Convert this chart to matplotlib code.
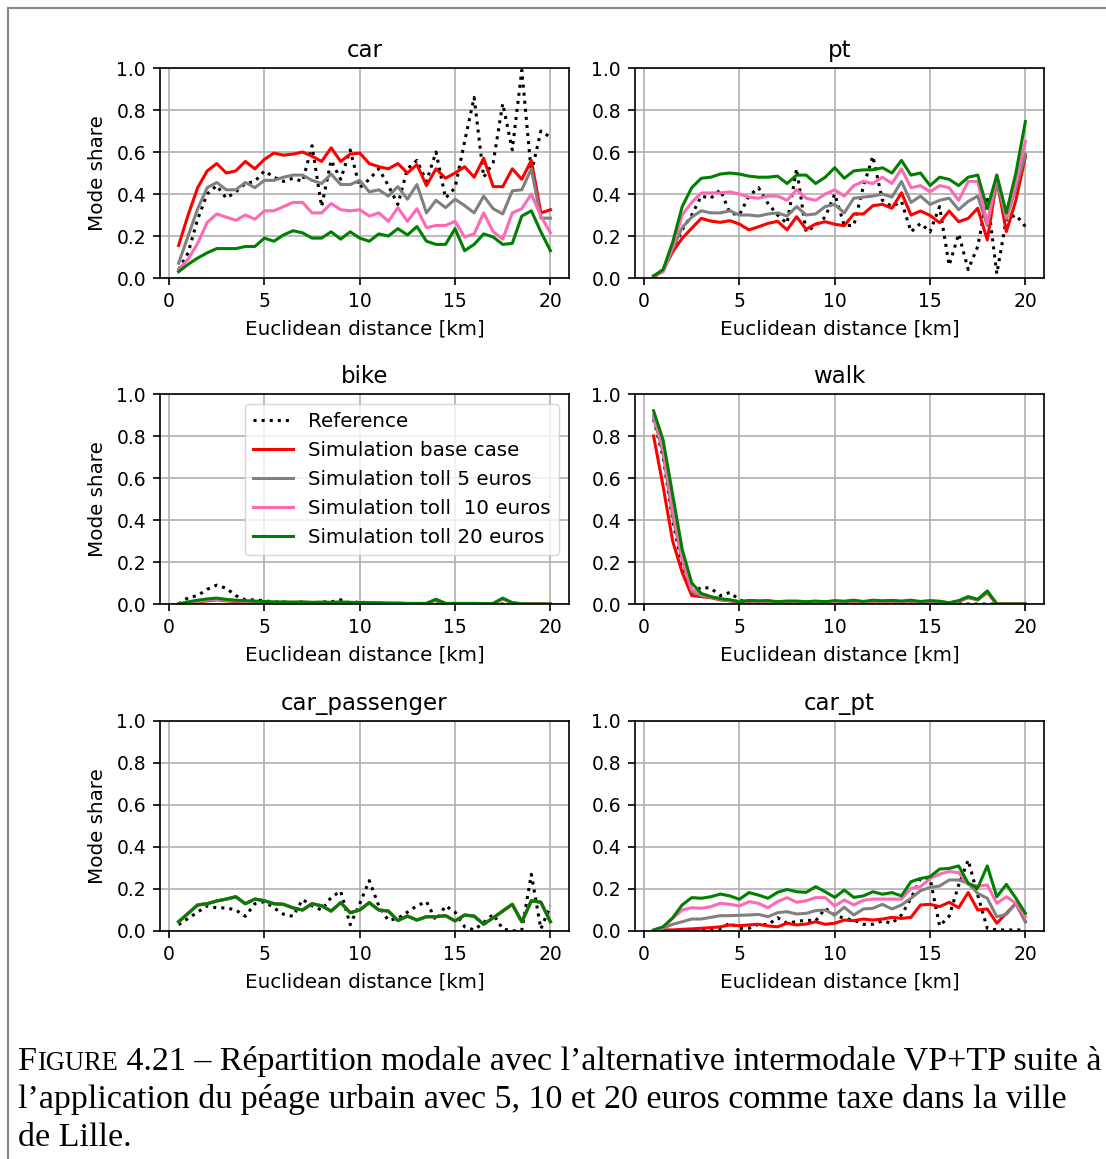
import numpy as np
import matplotlib
matplotlib.use('Agg')
import matplotlib.pyplot as plt
from matplotlib.lines import Line2D

# distance bins (km)
dist = np.arange(1, 41) * 0.5

# ---- car ----
car_ref = [0.04, 0.12, 0.28, 0.40, 0.44, 0.38, 0.41, 0.45, 0.46, 0.51,
           0.48, 0.46, 0.475, 0.46, 0.63, 0.34, 0.56, 0.47, 0.61, 0.43,
           0.47, 0.52, 0.44, 0.35, 0.52, 0.56, 0.46, 0.60, 0.38, 0.43,
           0.65, 0.86, 0.48, 0.55, 0.83, 0.61, 0.99, 0.50, 0.70, 0.67]
car_base = [0.155, 0.30, 0.43, 0.51, 0.545, 0.50, 0.51, 0.555, 0.52, 0.565,
            0.595, 0.585, 0.59, 0.60, 0.58, 0.555, 0.62, 0.555, 0.59, 0.595,
            0.545, 0.53, 0.52, 0.545, 0.50, 0.54, 0.44, 0.52, 0.475, 0.50,
            0.53, 0.48, 0.57, 0.435, 0.435, 0.52, 0.47, 0.56, 0.31, 0.325]
car_t5 = [0.07, 0.20, 0.33, 0.43, 0.455, 0.42, 0.42, 0.455, 0.43, 0.465,
          0.465, 0.48, 0.49, 0.49, 0.465, 0.45, 0.495, 0.445, 0.445, 0.465,
          0.41, 0.42, 0.39, 0.435, 0.375, 0.445, 0.31, 0.37, 0.335, 0.375,
          0.345, 0.31, 0.39, 0.33, 0.305, 0.415, 0.42, 0.52, 0.285, 0.285]
car_t10 = [0.04, 0.09, 0.165, 0.265, 0.305, 0.29, 0.275, 0.30, 0.28, 0.32,
           0.32, 0.34, 0.36, 0.36, 0.31, 0.31, 0.355, 0.325, 0.32, 0.325,
           0.295, 0.31, 0.27, 0.335, 0.27, 0.33, 0.24, 0.25, 0.25, 0.27,
           0.195, 0.21, 0.31, 0.22, 0.185, 0.31, 0.33, 0.40, 0.295, 0.215]
car_t20 = [0.03, 0.065, 0.095, 0.12, 0.14, 0.14, 0.14, 0.15, 0.15, 0.19,
           0.175, 0.205, 0.225, 0.215, 0.19, 0.19, 0.22, 0.185, 0.22, 0.19,
           0.175, 0.21, 0.20, 0.235, 0.205, 0.245, 0.175, 0.16, 0.16, 0.235,
           0.13, 0.16, 0.21, 0.195, 0.16, 0.165, 0.295, 0.32, 0.22, 0.13]

# ---- pt ----
pt_ref = [0.003, 0.04, 0.13, 0.23, 0.30, 0.39, 0.38, 0.42, 0.31, 0.30,
          0.39, 0.43, 0.355, 0.30, 0.26, 0.52, 0.22, 0.25, 0.29, 0.40,
          0.25, 0.25, 0.435, 0.58, 0.37, 0.34, 0.365, 0.22, 0.26, 0.22,
          0.34, 0.06, 0.21, 0.04, 0.15, 0.39, 0.02, 0.28, 0.30, 0.245]
pt_base = [0.003, 0.038, 0.125, 0.189, 0.237, 0.284, 0.271, 0.265, 0.273, 0.257,
           0.229, 0.244, 0.260, 0.270, 0.229, 0.292, 0.232, 0.257, 0.268, 0.256,
           0.249, 0.305, 0.305, 0.344, 0.351, 0.332, 0.406, 0.300, 0.319, 0.298,
           0.263, 0.319, 0.268, 0.284, 0.332, 0.181, 0.467, 0.221, 0.370, 0.578]
pt_t5 = [0.01, 0.03, 0.14, 0.24, 0.29, 0.32, 0.31, 0.31, 0.32, 0.30,
         0.30, 0.295, 0.305, 0.31, 0.295, 0.34, 0.30, 0.305, 0.34, 0.35,
         0.31, 0.38, 0.385, 0.39, 0.40, 0.385, 0.46, 0.36, 0.39, 0.35,
         0.37, 0.38, 0.325, 0.365, 0.39, 0.25, 0.46, 0.28, 0.43, 0.59]
pt_t10 = [0.01, 0.03, 0.15, 0.30, 0.36, 0.405, 0.405, 0.405, 0.41, 0.40,
          0.385, 0.38, 0.39, 0.39, 0.37, 0.42, 0.38, 0.37, 0.40, 0.42,
          0.39, 0.44, 0.46, 0.45, 0.48, 0.45, 0.52, 0.43, 0.44, 0.41,
          0.44, 0.43, 0.37, 0.46, 0.46, 0.26, 0.49, 0.29, 0.45, 0.65]
pt_t20 = [0.01, 0.04, 0.17, 0.34, 0.43, 0.475, 0.48, 0.495, 0.50, 0.495,
          0.485, 0.48, 0.48, 0.485, 0.45, 0.49, 0.49, 0.45, 0.48, 0.525,
          0.475, 0.51, 0.515, 0.515, 0.525, 0.50, 0.56, 0.49, 0.50, 0.44,
          0.48, 0.47, 0.44, 0.48, 0.49, 0.33, 0.49, 0.31, 0.50, 0.745]

# ---- bike ----
bike_ref = [0.0, 0.03, 0.04, 0.07, 0.09, 0.075, 0.04, 0.02, 0.02, 0.015,
            0.01, 0.01, 0.005, 0.01, 0.005, 0.01, 0.01, 0.02, 0.005, 0.01,
            0.005, 0.005, 0.0, 0.0, 0.0, 0.0, 0.0, 0.0, 0.0, 0.0,
            0.0, 0.0, 0.0, 0.0, 0.0, 0.0, 0.0, 0.0, 0.0, 0.0]
bike_base = [0.0, 0.005, 0.01, 0.015, 0.02, 0.015, 0.012, 0.01, 0.01, 0.008,
             0.006, 0.006, 0.006, 0.006, 0.005, 0.005, 0.005, 0.005, 0.005, 0.005,
             0.004, 0.004, 0.003, 0.003, 0.002, 0.002, 0.002, 0.02, 0.002, 0.002,
             0.002, 0.002, 0.002, 0.002, 0.025, 0.005, 0.001, 0.0, 0.0, 0.0]
bike_t5 = [0.0, 0.006, 0.012, 0.018, 0.022, 0.017, 0.014, 0.012, 0.011, 0.009,
           0.007, 0.007, 0.007, 0.007, 0.006, 0.006, 0.006, 0.006, 0.006, 0.005,
           0.005, 0.004, 0.003, 0.003, 0.002, 0.002, 0.002, 0.022, 0.002, 0.002,
           0.002, 0.002, 0.002, 0.002, 0.025, 0.005, 0.001, 0.0, 0.0, 0.0]
bike_t10 = [0.0, 0.007, 0.014, 0.02, 0.024, 0.019, 0.016, 0.013, 0.012, 0.01,
            0.008, 0.008, 0.008, 0.008, 0.007, 0.007, 0.007, 0.007, 0.007, 0.006,
            0.005, 0.004, 0.003, 0.003, 0.002, 0.002, 0.002, 0.022, 0.002, 0.002,
            0.002, 0.002, 0.002, 0.002, 0.026, 0.005, 0.001, 0.0, 0.0, 0.0]
bike_t20 = [0.0, 0.01, 0.018, 0.024, 0.028, 0.022, 0.018, 0.016, 0.014, 0.012,
            0.01, 0.01, 0.009, 0.01, 0.008, 0.009, 0.008, 0.01, 0.008, 0.007,
            0.006, 0.005, 0.004, 0.004, 0.003, 0.003, 0.003, 0.022, 0.003, 0.003,
            0.003, 0.003, 0.002, 0.002, 0.028, 0.006, 0.001, 0.0, 0.0, 0.0]

# ---- walk ----
walk_ref = [0.88, 0.70, 0.40, 0.18, 0.05, 0.08, 0.075, 0.04, 0.055, 0.02,
            0.005, 0.005, 0.005, 0.005, 0.003, 0.003, 0.003, 0.003, 0.003, 0.003,
            0.003, 0.003, 0.002, 0.002, 0.002, 0.002, 0.002, 0.002, 0.002, 0.002,
            0.002, 0.002, 0.002, 0.0, 0.0, 0.0, 0.0, 0.0, 0.0, 0.0]
walk_base = [0.80, 0.56, 0.30, 0.15, 0.04, 0.035, 0.03, 0.02, 0.015, 0.01,
             0.012, 0.01, 0.012, 0.008, 0.01, 0.01, 0.008, 0.01, 0.008, 0.01,
             0.01, 0.012, 0.008, 0.012, 0.01, 0.012, 0.01, 0.012, 0.008, 0.012,
             0.01, 0.004, 0.012, 0.03, 0.02, 0.055, 0.0, 0.0, 0.0, 0.0]
walk_t5 = [0.89, 0.72, 0.42, 0.21, 0.06, 0.04, 0.032, 0.022, 0.016, 0.011,
           0.014, 0.012, 0.013, 0.009, 0.011, 0.011, 0.009, 0.011, 0.009, 0.012,
           0.011, 0.014, 0.009, 0.014, 0.012, 0.014, 0.011, 0.014, 0.009, 0.013,
           0.011, 0.004, 0.013, 0.032, 0.02, 0.058, 0.0, 0.0, 0.0, 0.0]
walk_t10 = [0.90, 0.74, 0.45, 0.22, 0.07, 0.045, 0.034, 0.024, 0.017, 0.012,
            0.015, 0.013, 0.014, 0.01, 0.012, 0.012, 0.01, 0.012, 0.01, 0.013,
            0.012, 0.015, 0.01, 0.015, 0.013, 0.015, 0.012, 0.015, 0.01, 0.014,
            0.012, 0.005, 0.014, 0.033, 0.021, 0.06, 0.0, 0.0, 0.0, 0.0]
walk_t20 = [0.92, 0.78, 0.52, 0.26, 0.10, 0.05, 0.035, 0.025, 0.02, 0.01,
            0.017, 0.015, 0.016, 0.011, 0.014, 0.014, 0.011, 0.014, 0.011, 0.016,
            0.013, 0.018, 0.012, 0.018, 0.015, 0.017, 0.014, 0.018, 0.012, 0.016,
            0.013, 0.006, 0.016, 0.035, 0.022, 0.062, 0.0, 0.0, 0.0, 0.0]

# ---- car_passenger ----
cp_ref = [0.03, 0.06, 0.09, 0.12, 0.11, 0.11, 0.10, 0.07, 0.13, 0.14,
          0.11, 0.08, 0.07, 0.15, 0.12, 0.10, 0.16, 0.19, 0.03, 0.13,
          0.24, 0.12, 0.05, 0.06, 0.09, 0.12, 0.14, 0.05, 0.12, 0.09,
          0.02, 0.005, 0.04, 0.08, 0.01, 0.0, 0.005, 0.27, 0.01, 0.12]
cp_sim = [0.044, 0.084, 0.124, 0.13, 0.143, 0.152, 0.163, 0.13, 0.152, 0.144,
          0.13, 0.127, 0.11, 0.10, 0.13, 0.12, 0.095, 0.135, 0.087, 0.10,
          0.135, 0.10, 0.095, 0.05, 0.071, 0.052, 0.068, 0.068, 0.073, 0.048,
          0.076, 0.071, 0.032, 0.063, 0.095, 0.127, 0.044, 0.144, 0.137, 0.044]

# ---- car_pt ----
cpt_ref = [0.0, 0.0, 0.0, 0.0, 0.0, 0.005, 0.008, 0.012, 0.037, 0.013,
           0.013, 0.032, 0.03, 0.063, 0.037, 0.045, 0.052, 0.048, 0.108, 0.076,
           0.06, 0.052, 0.032, 0.032, 0.048, 0.037, 0.076, 0.156, 0.25, 0.25,
           0.024, 0.07, 0.219, 0.338, 0.17, 0.013, 0.005, 0.005, 0.005, 0.005]
cpt_base = [0.002, 0.005, 0.005, 0.008, 0.01, 0.013, 0.016, 0.02, 0.029, 0.025,
            0.029, 0.032, 0.024, 0.02, 0.037, 0.029, 0.033, 0.044, 0.032, 0.037,
            0.052, 0.049, 0.057, 0.052, 0.057, 0.065, 0.06, 0.065, 0.124, 0.127,
            0.116, 0.137, 0.111, 0.183, 0.10, 0.105, 0.037, 0.084, 0.132, 0.044]
cpt_t5 = [0.003, 0.013, 0.032, 0.044, 0.057, 0.057, 0.065, 0.073, 0.073, 0.075,
          0.076, 0.079, 0.068, 0.087, 0.092, 0.081, 0.084, 0.097, 0.10, 0.076,
          0.113, 0.076, 0.105, 0.108, 0.127, 0.105, 0.124, 0.156, 0.192, 0.208,
          0.214, 0.243, 0.243, 0.227, 0.179, 0.156, 0.068, 0.079, 0.132, 0.044]
cpt_t10 = [0.003, 0.016, 0.06, 0.10, 0.111, 0.108, 0.116, 0.132, 0.127, 0.119,
           0.14, 0.132, 0.111, 0.14, 0.159, 0.137, 0.144, 0.159, 0.159, 0.119,
           0.148, 0.124, 0.146, 0.152, 0.152, 0.152, 0.152, 0.203, 0.211, 0.25,
           0.271, 0.283, 0.278, 0.222, 0.214, 0.219, 0.132, 0.163, 0.132, 0.068]
cpt_t20 = [0.005, 0.02, 0.063, 0.124, 0.159, 0.156, 0.163, 0.176, 0.167, 0.151,
           0.183, 0.171, 0.156, 0.184, 0.198, 0.187, 0.184, 0.211, 0.187, 0.16,
           0.195, 0.16, 0.167, 0.187, 0.175, 0.183, 0.167, 0.235, 0.25, 0.259,
           0.295, 0.298, 0.31, 0.227, 0.206, 0.31, 0.163, 0.222, 0.156, 0.084]

modes = ["car", "pt", "bike", "walk", "car_passenger", "car_pt"]
series = {
    "car": [car_ref, car_base, car_t5, car_t10, car_t20],
    "pt": [pt_ref, pt_base, pt_t5, pt_t10, pt_t20],
    "bike": [bike_ref, bike_base, bike_t5, bike_t10, bike_t20],
    "walk": [walk_ref, walk_base, walk_t5, walk_t10, walk_t20],
    "car_passenger": [cp_ref, cp_sim, cp_sim, cp_sim, cp_sim],
    "car_pt": [cpt_ref, cpt_base, cpt_t5, cpt_t10, cpt_t20],
}
labels = ["Reference", "Simulation base case", "Simulation toll 5 euros",
          "Simulation toll  10 euros", "Simulation toll 20 euros"]
colors = ["black", "red", "grey", "hotpink", "green"]


def main():
    plt.rcParams['font.family'] = 'DejaVu Sans'
    plt.rcParams['font.size'] = 14
    plt.rcParams['xtick.labelsize'] = 13.5
    plt.rcParams['ytick.labelsize'] = 13.5

    fig = plt.figure(figsize=(11.06, 11.59), dpi=100)

    lefts = [160 / 1106, 635 / 1106]
    bottoms = [1 - 278 / 1159, 1 - 604 / 1159, 1 - 931 / 1159]
    w = 409 / 1106
    h = 210 / 1159

    for i, mode in enumerate(modes):
        r, c = divmod(i, 2)
        ax = fig.add_axes([lefts[c], bottoms[r], w, h])
        ref, base, t5, t10, t20 = series[mode]
        ax.plot(dist, ref, ':', color=colors[0], lw=2.2, label=labels[0])
        ax.plot(dist, base, '-', color=colors[1], lw=2.2, label=labels[1])
        ax.plot(dist, t5, '-', color=colors[2], lw=2.2, label=labels[2])
        ax.plot(dist, t10, '-', color=colors[3], lw=2.2, label=labels[3])
        ax.plot(dist, t20, '-', color=colors[4], lw=2.2, label=labels[4])
        ax.set_ylim(0, 1)
        ax.set_xticks([0, 5, 10, 15, 20])
        ax.set_yticks([0, 0.2, 0.4, 0.6, 0.8, 1.0])
        ax.grid(True, color='#b0b0b0', lw=1.2)
        ax.set_title(mode, fontsize=16.5, pad=8)
        ax.set_xlabel("Euclidean distance [km]", fontsize=14.3, labelpad=6)
        if c == 0:
            ax.set_ylabel("Mode share", fontsize=14.3, labelpad=7)
        for s in ax.spines.values():
            s.set_linewidth(1.2)
        ax.tick_params(width=1.2, length=5, pad=5)
        if mode == "bike":
            ax.legend(loc='upper right', fontsize=14.3, handlelength=2.0)

    # page frame (left and top edge of the figure box)
    fig.add_artist(Line2D([8 / 1106, 8 / 1106], [0, 1 - 8 / 1159], color='#888888', lw=1.5))
    fig.add_artist(Line2D([8 / 1106, 1], [1 - 8 / 1159, 1 - 8 / 1159], color='#888888', lw=1.5))

    # caption with small caps "Figure"
    fs = 24.5
    fam = 'Liberation Serif'
    renderer = fig.canvas.get_renderer()
    x0 = 18 / 1106
    y1 = 1 - 1070 / 1159
    t = fig.text(x0, y1, "F", fontsize=fs, family=fam, va='baseline')
    bb = t.get_window_extent(renderer)
    x = x0 + bb.width / 1106
    t = fig.text(x, y1, "IGURE", fontsize=fs * 0.78, family=fam, va='baseline')
    bb = t.get_window_extent(renderer)
    x = x + bb.width / 1106
    fig.text(x, y1, " 4.21 – Répartition modale avec l’alternative intermodale VP+TP suite à",
             fontsize=fs, family=fam, va='baseline')
    fig.text(x0, 1 - 1108 / 1159,
             "l’application du péage urbain avec 5, 10 et 20 euros comme taxe dans la ville",
             fontsize=fs, family=fam, va='baseline')
    fig.text(x0, 1 - 1146 / 1159, "de Lille.", fontsize=fs, family=fam, va='baseline')

    fig.savefig("out.png", dpi=100)


if __name__ == "__main__":
    main()
